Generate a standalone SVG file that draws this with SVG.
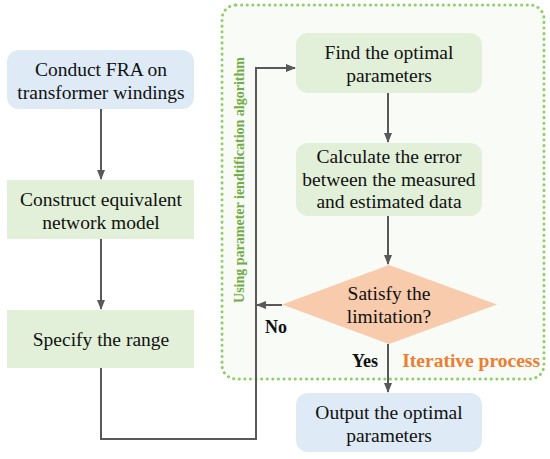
<svg xmlns="http://www.w3.org/2000/svg" width="550" height="459" viewBox="0 0 550 459">
<defs>
<marker id="ah" viewBox="0 0 10 10" refX="9" refY="5" markerWidth="10" markerHeight="10" markerUnits="userSpaceOnUse" orient="auto">
<path d="M0,1 L10,5 L0,9 z" fill="#595959"/>
</marker>
<style>
.t{font-size:19.5px;fill:#111;text-anchor:middle}
.b{font-weight:bold}
.blue{fill:#deeaf6}
.green{fill:#e2f0d9}
.c{fill:none;stroke:#595959;stroke-width:2}
</style>
</defs>
<rect width="550" height="459" fill="#ffffff"/>
<g font-family="Times New Roman, Liberation Serif, DejaVu Serif, serif">
<g id="iterative-region">
<rect x="222" y="5" width="322" height="374" rx="14" fill="#f8fbf6" stroke="#8fcf6a" stroke-width="3" stroke-dasharray="0.1 5.5" stroke-linecap="round"/>
<text transform="translate(244,180) rotate(-90)" font-size="14" font-weight="bold" fill="#70ad47" text-anchor="middle">Using parameter iendtification algorithm</text>
<text x="540" y="367" font-size="19.5" font-weight="bold" fill="#ed7d31" text-anchor="end">Iterative process</text>
</g>
<g id="connectors">
<line class="c" x1="101" y1="109" x2="101" y2="179" marker-end="url(#ah)"/>
<line class="c" x1="101" y1="239" x2="101" y2="309" marker-end="url(#ah)"/>
<polyline class="c" points="101,368 101,439 256,439 256,68 295,68" marker-end="url(#ah)"/>
<line class="c" x1="388" y1="93" x2="388" y2="142" marker-end="url(#ah)"/>
<line class="c" x1="388" y1="216" x2="388" y2="264" marker-end="url(#ah)"/>
<line class="c" x1="282" y1="305" x2="257" y2="305" marker-end="url(#ah)"/>
<line class="c" x1="388" y1="344" x2="388" y2="392" marker-end="url(#ah)"/>
<text class="t b" x="276" y="333" style="font-size:18px">No</text>
<text class="t b" x="365" y="367" style="font-size:18px">Yes</text>
</g>
<g id="n1">
<rect class="blue" x="7" y="50" width="187" height="59" rx="12"/>
<text class="t" x="101" y="76">Conduct FRA on</text>
<text class="t" x="101" y="99">transformer windings</text>
</g>
<g id="n2">
<rect class="green" x="7" y="180" width="187" height="59"/>
<text class="t" x="101" y="206">Construct equivalent</text>
<text class="t" x="101" y="229">network model</text>
</g>
<g id="n3">
<rect class="green" x="7" y="310" width="187" height="58"/>
<text class="t" x="101" y="346">Specify the range</text>
</g>
<g id="n4">
<rect class="green" x="296" y="33" width="186" height="60" rx="12"/>
<text class="t" x="389" y="59">Find the optimal</text>
<text class="t" x="389" y="82">parameters</text>
</g>
<g id="n5">
<rect class="green" x="296" y="143" width="186" height="73" rx="12"/>
<text class="t" x="389" y="163">Calculate the error</text>
<text class="t" x="389" y="186">between the measured</text>
<text class="t" x="389" y="208">and estimated data</text>
</g>
<g id="n6">
<polygon points="389,265 497,304.5 389,344 282,304.5" fill="#f8cbad"/>
<text class="t" x="389" y="300">Satisfy the</text>
<text class="t" x="389" y="323">limitation?</text>
</g>
<g id="n7">
<rect class="blue" x="296" y="393" width="186" height="59" rx="12"/>
<text class="t" x="389" y="419">Output the optimal</text>
<text class="t" x="389" y="442">parameters</text>
</g>
</g>
</svg>
